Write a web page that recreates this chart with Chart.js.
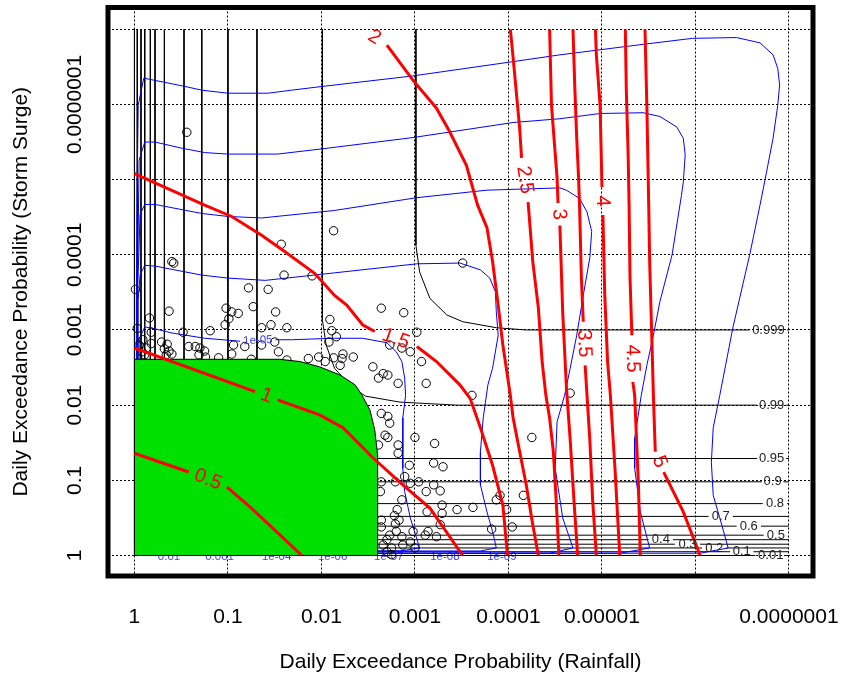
<!DOCTYPE html>
<html>
<head>
<meta charset="utf-8">
<script src="https://cdn.jsdelivr.net/npm/chart.js@4.4.1/dist/chart.umd.min.js"></script>
<style>
  html, body { margin: 0; padding: 0; background: #fff; }
  #wrap { width: 841px; height: 679px; position: relative; }
</style>
</head>
<body>
<div id="wrap"><canvas id="jointChart"></canvas></div>
<script>
// Every coordinate is in decades: -log10(daily exceedance probability).
// x = rainfall, y = storm surge.
const xTickLabels = ['1', '0.1', '0.01', '0.001', '0.0001', '0.00001', '', '0.0000001'];
const yTickLabels = ['1', '0.1', '0.01', '0.001', '0.0001', '', '0.0000001', ''];

// observed daily pairs
const observedEvents = [
  [0.56,5.63],[2.13,4.32],[1.57,4.14],[1.60,3.73],[1.90,3.72],[0.40,3.91],[0.42,3.89],[0.01,3.54],[1.22,3.56],[1.43,3.54],
  [0.37,3.25],[0.98,3.29],[1.04,3.24],[1.11,3.22],[1.27,3.31],[1.51,3.24],[1.01,3.15],[0.97,3.07],[0.16,3.16],[1.46,3.07],
  [1.36,3.03],[1.63,3.03],[2.09,3.14],[2.11,2.99],[0.81,2.99],[0.52,2.97],[0.03,3.02],[0.18,2.97],[0.18,2.82],[0.29,2.84],
  [0.35,2.81],[0.32,2.75],[0.37,2.72],[0.34,2.67],[0.40,2.68],[0.58,2.78],[0.65,2.78],[0.70,2.76],[0.75,2.72],[0.69,2.67],
  [0.76,2.64],[0.90,2.63],[1.06,2.80],[1.18,2.78],[1.04,2.68],[1.36,2.80],[1.50,2.84],[1.54,2.71],[1.63,2.60],[1.86,2.62],
  [1.97,2.64],[2.04,2.58],[1.25,2.61],[0.11,2.67],[0.08,2.71],[0.05,2.80],[0.13,2.76],[0.09,2.87],
  [3.51,3.89],[2.64,3.29],[2.88,3.23],[3.02,2.97],[2.16,2.91],[2.08,2.84],[2.13,2.63],[2.23,2.68],[2.22,2.62],[2.34,2.64],[2.20,2.53],
  [2.73,2.80],[2.86,2.76],[2.95,2.71],[3.07,2.58],[2.55,2.51],[2.66,2.42],[2.71,2.40],[2.61,2.36],[2.82,2.29],[3.12,2.29],[3.61,2.13],
  [2.64,1.89],[2.71,1.85],[2.73,1.76],[2.68,1.60],[2.71,1.57],[2.61,1.47],[2.82,1.47],[3.00,1.57],[3.21,1.49],[4.25,1.57],
  [2.82,1.36],[2.94,1.20],[3.20,1.23],[3.30,1.18],[2.89,1.05],[2.64,0.98],[2.79,0.98],[2.95,0.96],[3.04,0.98],[3.20,0.94],
  [3.27,0.86],[3.12,0.85],[2.63,0.85],[2.86,0.74],[3.91,0.80],[3.87,0.74],[4.16,0.80],[3.98,0.61],[3.29,0.67],[3.29,0.56],
  [3.45,0.61],[3.62,0.64],[3.13,0.58],[2.81,0.61],[2.78,0.53],[2.83,0.47],[2.79,0.42],[2.64,0.47],[2.64,0.38],[3.82,0.35],
  [4.04,0.38],[3.27,0.41],[3.14,0.32],[3.11,0.27],[3.23,0.25],[2.80,0.32],[2.73,0.27],[2.86,0.25],[2.70,0.21],[2.95,0.18],
  [2.66,0.14],[2.75,0.10],[2.87,0.14],[3.00,0.10],[2.70,0.05],[2.75,0.01],[2.98,0.32],[4.66,2.16]
];

// shaded zone in the lower left
const greenZone = [
  [0,0],[0,2.61],[1.55,2.61],[1.77,2.58],[1.98,2.51],[2.20,2.40],[2.36,2.27],[2.43,2.14],
  [2.52,1.93],[2.57,1.67],[2.60,1.34],[2.60,0],[0,0]
];

// thick red contours; null marks where the label sits
const redLevels = ['0.5', '1', '1.5', '2', '2.5', '3', '3.5', '4', '4.5', '5'];
const redPaths = [
  [[0.00,1.36],[0.58,1.11],null,[0.99,0.91],[1.25,0.63],[1.79,0.00]],
  [[0.00,2.76],[1.29,2.18],null,[1.53,2.07],[1.98,1.87],[2.23,1.70],[2.55,1.30],[2.87,0.94],[3.16,0.63],[3.51,0.00]],
  [[0.00,5.08],[0.75,4.66],[1.04,4.51],[1.36,4.26],[1.61,4.04],[1.93,3.75],[2.14,3.46],[2.27,3.33],[2.44,3.07],[2.57,2.98],null,
   [3.02,2.78],[3.23,2.58],[3.48,2.27],[3.59,2.09],[3.70,1.70],[3.83,1.20],[3.94,0.67],[3.99,0.00]],
  [[2.43,7.00],null,[2.70,6.79],[2.98,6.32],[3.23,5.95],[3.37,5.64],[3.55,5.19],[3.67,4.66],[3.77,4.36],[3.83,3.91],
   [3.89,3.33],[3.94,2.80],[4.02,2.13],[4.05,1.83],[4.12,1.38],[4.19,0.94],[4.26,0.41],[4.32,0.00]],
  [[4.02,7.00],[4.05,6.62],[4.09,6.08],[4.12,5.68],[4.14,5.29],null,[4.21,4.70],[4.26,3.91],[4.32,3.29],[4.36,2.58],
   [4.40,2.13],[4.44,1.83],[4.48,1.38],[4.51,0.74],[4.54,0.00]],
  [[4.44,7.00],[4.46,5.99],[4.52,5.02],[4.53,4.69],null,[4.55,4.39],[4.58,3.24],[4.62,2.23],[4.66,1.54],[4.70,0.74],[4.74,0.00]],
  [[4.69,7.00],[4.71,6.21],[4.73,5.55],[4.75,5.02],[4.76,4.66],[4.78,3.69],[4.80,3.11],null,[4.82,2.53],[4.84,2.13],
   [4.87,1.54],[4.90,0.74],[4.94,0.00]],
  [[4.93,7.00],[4.94,6.66],[4.98,5.99],[5.00,4.90],null,[5.01,4.53],[5.03,3.46],[5.06,2.58],[5.09,2.13],[5.14,1.14],[5.19,0.00]],
  [[5.25,7.00],[5.26,6.21],[5.28,5.33],[5.29,4.66],[5.30,3.69],[5.32,2.93],null,[5.33,2.31],[5.35,2.13],[5.39,0.94],[5.41,0.00]],
  [[5.46,7.00],[5.48,5.99],[5.50,4.66],[5.51,3.91],[5.53,3.03],[5.55,2.13],[5.57,1.38],null,[5.66,1.11],[5.87,0.58],[6.05,0.00]]
];

// thin blue contours
const blueLevels = ['', '', '', '', '1e-05'];
const bluePaths = [
  [[0.02,0.03],[0.02,3.40],[0.03,4.99],[0.04,5.99],[0.10,6.35],[0.22,6.32],[0.54,6.24],[0.72,6.19],[1.00,6.15],[1.43,6.15],
   [1.68,6.19],[2.01,6.24],[2.98,6.38],[4.05,6.57],[4.55,6.66],[5.44,6.80],[5.97,6.88],[6.44,6.89],[6.69,6.82],[6.83,6.66],
   [6.88,6.48],[6.90,6.26],[6.88,5.99],[6.83,5.55],[6.76,5.10],[6.69,4.66],[6.58,4.00],[6.40,3.03],[6.26,2.13],[6.19,1.70],
   [6.17,1.24],[6.19,0.80],[6.26,0.50],[6.35,0.10],[6.05,0.03],[0.02,0.03]],
  [[0.03,0.03],[0.03,3.40],[0.05,5.26],[0.11,5.50],[0.22,5.50],[0.50,5.42],[0.75,5.36],[1.00,5.34],[1.53,5.34],[2.01,5.41],
   [2.98,5.56],[4.05,5.76],[4.55,5.81],[4.98,5.88],[5.44,5.89],[5.62,5.84],[5.80,5.70],[5.87,5.55],[5.89,5.33],[5.87,4.97],
   [5.85,4.79],[5.75,4.00],[5.62,3.38],[5.55,2.93],[5.48,2.53],[5.42,2.13],[5.35,1.56],[5.35,1.16],[5.41,0.58],[5.51,0.10],
   [5.19,0.03],[0.03,0.03]],
  [[0.03,0.03],[0.03,3.40],[0.06,4.53],[0.11,4.67],[0.22,4.67],[0.72,4.55],[1.00,4.51],[1.36,4.49],[2.14,4.59],[3.02,4.76],
   [3.77,4.86],[4.55,4.89],[4.62,4.86],[4.76,4.75],[4.84,4.57],[4.89,4.31],[4.87,3.96],[4.80,3.46],[4.73,2.93],[4.66,2.49],
   [4.60,2.13],[4.52,1.78],[4.50,1.16],[4.58,0.50],[4.69,0.10],[4.44,0.03],[0.03,0.03]],
  [[0.04,0.06],[0.04,3.40],[0.06,3.73],[0.11,3.86],[0.22,3.85],[0.72,3.73],[1.00,3.69],[1.40,3.66],[2.14,3.76],[3.02,3.88],
   [3.48,3.89],[3.70,3.80],[3.80,3.69],[3.86,3.51],[3.87,3.24],[3.89,2.93],[3.83,2.49],[3.78,2.27],[3.73,1.83],[3.70,1.38],
   [3.70,0.94],[3.77,0.58],[3.83,0.32],[3.87,0.10],[3.70,0.06],[0.04,0.06]],
  [[0.05,0.06],[0.05,2.87],[0.11,3.04],[0.17,3.03],[0.40,2.96],[0.75,2.89],[1.13,2.85],null,[1.51,2.87],[1.68,2.87],
   [2.14,2.89],[2.44,2.89],[2.70,2.83],[2.80,2.71],[2.86,2.58],[2.89,2.36],[2.90,2.13],[2.87,1.83],[2.87,1.16],[2.89,0.85],
   [2.95,0.50],[3.03,0.18],[3.05,0.10],[2.84,0.06],[0.05,0.06]]
];

// blue labels running along the lower edge
const blueEdgeLabels = ['0.01', '0.001', '1e-04', '1e-06', '1e-07', '1e-08', '1e-09'];
const blueEdgeX = [0.37, 0.91, 1.52, 2.12, 2.72, 3.32, 3.93];
const blueEdgeY = -0.02;

// thin black joint non-exceedance contours
const blackLevels = ['0.01', '0.1', '0.2', '0.3', '0.4', '0.5', '0.6', '0.7', '0.8', '0.9', '0.95', '0.99', '0.999'];
const blackPaths = [
  [[0.00,7],[0.00,0.00],[6.64,0.00],null,[6.97,0.00],[7,0.00]],
  [[0.03,7],[0.03,0.05],[6.37,0.05],null,[6.62,0.05],[7,0.05]],
  [[0.07,7],[0.07,0.10],[6.07,0.10],null,[6.33,0.10],[7,0.10]],
  [[0.11,7],[0.11,0.15],[5.78,0.15],null,[6.05,0.15],[7,0.15]],
  [[0.17,7],[0.17,0.21],[5.50,0.21],null,[5.76,0.21],[7,0.21]],
  [[0.22,7],[0.22,0.27],[6.73,0.27],null,[6.99,0.27],[7,0.27]],
  [[0.32,7],[0.32,0.39],[6.44,0.39],null,[6.70,0.39],[7,0.39]],
  [[0.53,7],[0.53,0.52],[6.14,0.52],null,[6.40,0.52],[7,0.52]],
  [[0.72,7],[0.72,0.69],[6.72,0.69],null,[6.98,0.69],[7,0.69]],
  [[1.00,7],[1.00,0.98],[6.71,0.98],null,[6.94,0.98],[7,0.98]],
  [[1.31,7],[1.31,1.29],[6.66,1.29],null,[6.97,1.29],[7,1.29]],
  [[2.01,7],[2.01,3.13],[2.05,2.80],[2.14,2.49],[2.30,2.27],[2.47,2.12],[2.84,2.04],[3.45,2.00],[6.66,2.00],null,[6.97,2.00],[7,2.00]],
  [[3.01,7],[3.01,4.13],[3.05,3.77],[3.16,3.42],[3.34,3.20],[3.51,3.11],[3.87,3.03],[4.19,3.00],[6.58,3.00],null,[6.98,3.00],[7,3.00]]
];

const FONT = "'Liberation Sans', Arial, Helvetica, sans-serif";

function toPoints(path) {
    return path.map(p => p ? { x: p[0], y: p[1] } : { x: null, y: null });
}

function lineSet(path, color, width, order) {
    return {
        type: 'line',
        data: toPoints(path),
        borderColor: color,
        borderWidth: width,
        pointRadius: 0,
        fill: false,
        spanGaps: false,
        tension: 0,
        order: order
    };
}

// label each contour in the gap left by its null entry, turned along the line
function labelGaps(chart, paths, labels, color, font) {
    const { ctx, scales: { x, y } } = chart;
    ctx.save();
    ctx.fillStyle = color;
    ctx.font = font;
    ctx.textAlign = 'center';
    ctx.textBaseline = 'middle';
    paths.forEach((path, i) => {
        const k = path.indexOf(null);
        if (k < 1 || !labels[i]) return;
        const a = path[k - 1], b = path[k + 1];
        const ax = x.getPixelForValue(a[0]), ay = y.getPixelForValue(a[1]);
        const bx = x.getPixelForValue(b[0]), by = y.getPixelForValue(b[1]);
        ctx.save();
        ctx.translate((ax + bx) / 2, (ay + by) / 2);
        ctx.rotate(Math.atan2(by - ay, bx - ax));
        ctx.fillText(labels[i], 0, 0);
        ctx.restore();
    });
    ctx.restore();
}

const contourLabels = {
    id: 'contourLabels',
    beforeDatasetsDraw(chart) {
        const { ctx, scales: { x, y } } = chart;
        ctx.save();
        ctx.fillStyle = '#3c3cff';
        ctx.font = '11.5px ' + FONT;
        ctx.textAlign = 'center';
        ctx.textBaseline = 'middle';
        blueEdgeLabels.forEach((t, i) => {
            ctx.fillText(t, x.getPixelForValue(blueEdgeX[i]), y.getPixelForValue(blueEdgeY));
        });
        ctx.restore();
    },
    afterDatasetsDraw(chart) {
        labelGaps(chart, blackPaths, blackLevels, '#222', '13px ' + FONT);
        labelGaps(chart, bluePaths, blueLevels, '#3c3cff', '11.5px ' + FONT);
        labelGaps(chart, redPaths, redLevels, '#ff0000', '20px ' + FONT);
    }
};

// heavy box round the plotting region
const frame = {
    id: 'frame',
    afterDraw(chart) {
        const { ctx, chartArea: a } = chart;
        ctx.save();
        ctx.lineWidth = 5;
        ctx.strokeStyle = '#000';
        ctx.strokeRect(a.left, a.top, a.right - a.left, a.bottom - a.top);
        ctx.restore();
    }
};

const datasets = [];
redPaths.forEach(p => datasets.push(lineSet(p, '#ff0000', 3, 2)));
datasets.push({
    type: 'line',
    data: toPoints(greenZone),
    fill: 'shape',
    backgroundColor: '#00e000',
    borderColor: '#000',
    borderWidth: 1,
    pointRadius: 0,
    tension: 0,
    order: 3
});
datasets.push({
    type: 'scatter',
    data: observedEvents.map(([x, y]) => ({ x, y })),
    pointRadius: 4.2,
    borderWidth: 1,
    borderColor: '#000',
    backgroundColor: 'rgba(0,0,0,0)',
    order: 4
});
bluePaths.forEach(p => datasets.push(lineSet(p, '#0000ff', 1, 5)));
blackPaths.forEach(p => datasets.push(lineSet(p, '#000', 1, 6)));

function axis(labels, min, max, extra) {
    return Object.assign({
        type: 'linear',
        min: min,
        max: max,
        afterBuildTicks: s => { s.ticks = labels.map((_, i) => ({ value: i })); },
        grid: { color: '#000', lineWidth: 1, drawTicks: false },
        border: { display: false, dash: [2, 2] }
    }, extra);
}

new Chart(document.getElementById('jointChart'), {
    type: 'scatter',
    data: { datasets },
    options: {
        responsive: true,
        maintainAspectRatio: false,
        animation: false,
        events: [],
        layout: { padding: { top: 7.5, right: 28, left: 0, bottom: 0 } },
        plugins: { legend: { display: false }, tooltip: { enabled: false } },
        scales: {
            x: axis(xTickLabels, -0.283, 7.257, {
                position: 'bottom',
                afterFit: s => { s.height = 103; s.paddingLeft = 0; s.paddingRight = 0; },
                ticks: {
                    autoSkip: false, minRotation: 0, maxRotation: 0, padding: 29,
                    color: '#000', font: { family: FONT, size: 21 },
                    callback: v => xTickLabels[Math.round(v)]
                },
                title: {
                    display: true, text: 'Daily Exceedance Probability (Rainfall)',
                    color: '#000', font: { family: FONT, size: 21 }, padding: { top: 0, bottom: 4 }
                }
            }),
            y: axis(yTickLabels, -0.273, 7.29, {
                position: 'left',
                afterFit: s => { s.width = 108; s.paddingTop = 0; s.paddingBottom = 0; },
                ticks: {
                    autoSkip: false, minRotation: 90, maxRotation: 90, crossAlign: 'center', padding: -17,
                    color: '#000', font: { family: FONT, size: 21 },
                    callback: v => yTickLabels[Math.round(v)]
                },
                title: {
                    display: true, text: 'Daily Exceedance Probability (Storm Surge)',
                    color: '#000', font: { family: FONT, size: 21 }, padding: { top: 9, bottom: 0 }
                }
            })
        }
    },
    plugins: [contourLabels, frame]
});
</script>
</body>
</html>
